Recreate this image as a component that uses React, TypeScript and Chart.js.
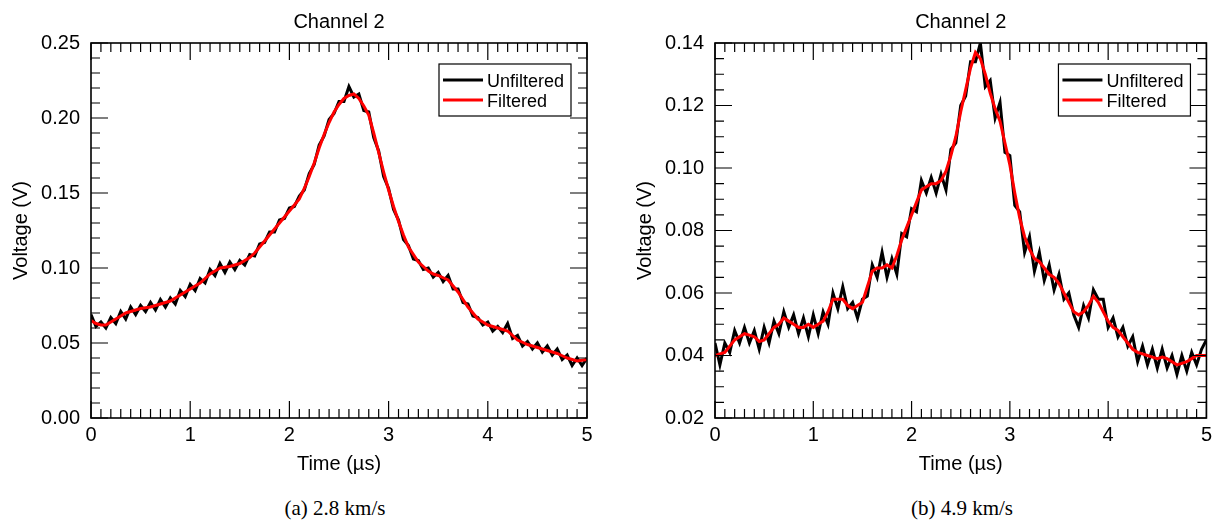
import React, { useEffect, useRef } from 'react';
import { Chart, registerables } from 'chart.js';

Chart.register(...registerables);

const timeUs = [
  0, 0.05, 0.1, 0.15, 0.2, 0.25, 0.3, 0.35, 0.4, 0.45,
  0.5, 0.55, 0.6, 0.65, 0.7, 0.75, 0.8, 0.85, 0.9, 0.95,
  1.0, 1.05, 1.1, 1.15, 1.2, 1.25, 1.3, 1.35, 1.4, 1.45,
  1.5, 1.55, 1.6, 1.65, 1.7, 1.75, 1.8, 1.85, 1.9, 1.95,
  2.0, 2.05, 2.1, 2.15, 2.2, 2.25, 2.3, 2.35, 2.4, 2.45,
  2.5, 2.55, 2.6, 2.65, 2.7, 2.75, 2.8, 2.85, 2.9, 2.95,
  3.0, 3.05, 3.1, 3.15, 3.2, 3.25, 3.3, 3.35, 3.4, 3.45,
  3.5, 3.55, 3.6, 3.65, 3.7, 3.75, 3.8, 3.85, 3.9, 3.95,
  4.0, 4.05, 4.1, 4.15, 4.2, 4.25, 4.3, 4.35, 4.4, 4.45,
  4.5, 4.55, 4.6, 4.65, 4.7, 4.75, 4.8, 4.85, 4.9, 4.95,
  5.0,
];

const unfilteredA = [
  0.069, 0.061, 0.064, 0.060, 0.067, 0.063, 0.071, 0.066, 0.074, 0.069,
  0.075, 0.071, 0.077, 0.072, 0.079, 0.074, 0.080, 0.076, 0.085, 0.081,
  0.089, 0.085, 0.093, 0.090, 0.099, 0.095, 0.103, 0.097, 0.104, 0.099,
  0.105, 0.102, 0.109, 0.108, 0.116, 0.117, 0.124, 0.124, 0.132, 0.133,
  0.140, 0.141, 0.148, 0.152, 0.163, 0.169, 0.182, 0.188, 0.199, 0.203,
  0.211, 0.211, 0.221, 0.214, 0.216, 0.205, 0.204, 0.187, 0.178, 0.161,
  0.153, 0.139, 0.132, 0.119, 0.115, 0.106, 0.105, 0.099, 0.100, 0.094,
  0.097, 0.091, 0.095, 0.086, 0.086, 0.077, 0.076, 0.068, 0.067, 0.062,
  0.064, 0.058, 0.061, 0.057, 0.063, 0.053, 0.055, 0.048, 0.051, 0.046,
  0.050, 0.044, 0.048, 0.042, 0.046, 0.039, 0.042, 0.035, 0.040, 0.035,
  0.040,
];

const filteredA = [
  0.065, 0.063, 0.062, 0.062, 0.064, 0.066, 0.068, 0.070, 0.071, 0.072,
  0.073, 0.0735, 0.074, 0.075, 0.076, 0.077, 0.078, 0.080, 0.082, 0.084,
  0.086, 0.088, 0.090, 0.093, 0.096, 0.098, 0.100, 0.1005, 0.101, 0.102,
  0.103, 0.105, 0.107, 0.110, 0.114, 0.118, 0.122, 0.126, 0.130, 0.134,
  0.138, 0.142, 0.146, 0.153, 0.161, 0.170, 0.180, 0.189, 0.197, 0.204,
  0.209, 0.213, 0.215, 0.216, 0.213, 0.208, 0.202, 0.190, 0.177, 0.164,
  0.152, 0.141, 0.131, 0.122, 0.114, 0.109, 0.104, 0.101, 0.098, 0.096,
  0.095, 0.0935, 0.092, 0.088, 0.084, 0.079, 0.074, 0.070, 0.066, 0.064,
  0.062, 0.061, 0.060, 0.059, 0.058, 0.055, 0.052, 0.0505, 0.049, 0.048,
  0.047, 0.046, 0.045, 0.044, 0.043, 0.0415, 0.040, 0.039, 0.038, 0.0385,
  0.039,
];

const unfilteredB = [
  0.044, 0.037, 0.044, 0.041, 0.048, 0.044, 0.049, 0.044, 0.048, 0.042,
  0.049, 0.044, 0.051, 0.047, 0.054, 0.049, 0.053, 0.047, 0.052, 0.046,
  0.053, 0.047, 0.054, 0.050, 0.060, 0.055, 0.062, 0.055, 0.057, 0.052,
  0.058, 0.059, 0.069, 0.065, 0.073, 0.065, 0.071, 0.066, 0.079, 0.078,
  0.087, 0.086, 0.096, 0.092, 0.097, 0.092, 0.098, 0.093, 0.106, 0.108,
  0.120, 0.123, 0.134, 0.134, 0.140, 0.126, 0.128, 0.116, 0.121, 0.105,
  0.104, 0.088, 0.086, 0.073, 0.078, 0.067, 0.073, 0.064, 0.069, 0.061,
  0.066, 0.058, 0.060, 0.053, 0.049, 0.056, 0.052, 0.061, 0.058, 0.058,
  0.049, 0.052, 0.046, 0.049, 0.043, 0.046, 0.038, 0.043, 0.037, 0.042,
  0.036, 0.042, 0.036, 0.040, 0.034, 0.040, 0.035, 0.041, 0.037, 0.042,
  0.045,
];

const filteredB = [
  0.040, 0.0405, 0.041, 0.043, 0.045, 0.046, 0.047, 0.0465, 0.046, 0.0445,
  0.045, 0.047, 0.049, 0.050, 0.052, 0.051, 0.050, 0.049, 0.049, 0.050,
  0.049, 0.050, 0.051, 0.054, 0.058, 0.058, 0.058, 0.056, 0.055, 0.056,
  0.057, 0.062, 0.067, 0.068, 0.068, 0.069, 0.068, 0.072, 0.077, 0.081,
  0.085, 0.089, 0.093, 0.094, 0.095, 0.095, 0.096, 0.099, 0.104, 0.110,
  0.118, 0.125, 0.132, 0.137, 0.135, 0.130, 0.124, 0.119, 0.115, 0.108,
  0.101, 0.092, 0.084, 0.078, 0.074, 0.071, 0.070, 0.068, 0.066, 0.065,
  0.063, 0.060, 0.057, 0.054, 0.053, 0.054, 0.056, 0.059, 0.057, 0.054,
  0.051, 0.049, 0.048, 0.046, 0.044, 0.042, 0.041, 0.0405, 0.040, 0.0395,
  0.039, 0.0395, 0.039, 0.038, 0.037, 0.0375, 0.038, 0.039, 0.040, 0.040,
  0.040,
];

const xTickLabels = ['0', '1', '2', '3', '4', '5'];
const yTickLabelsA = ['0.00', '0.05', '0.10', '0.15', '0.20', '0.25'];
const yTickLabelsB = ['0.02', '0.04', '0.06', '0.08', '0.10', '0.12', '0.14'];
const seriesNames = ['Unfiltered', 'Filtered'];
const chartTitle = 'Channel 2';
const xTitle = 'Time (\u00b5s)';
const yTitle = 'Voltage (V)';
const captions = ['(a) 2.8 km/s', '(b) 4.9 km/s'];

const SANS = '"Liberation Sans", Arial, Helvetica, sans-serif';

const decorPlugin = {
  id: 'decor',
  afterDatasetsDraw(chart: any, _args: any, opts: any) {
    const { ctx, chartArea: a, scales } = chart;
    const xs = scales.x;
    const ys = scales.y;
    ctx.save();
    ctx.strokeStyle = '#000';
    ctx.lineWidth = 1.2;
    ctx.beginPath();
    const nx = Math.round((xs.max - xs.min) / opts.xMinor);
    for (let i = 0; i <= nx; i++) {
      const p = xs.getPixelForValue(xs.min + i * opts.xMinor);
      const len = i % opts.xMajorEvery === 0 ? 17 : 9;
      ctx.moveTo(p, a.bottom);
      ctx.lineTo(p, a.bottom - len);
      ctx.moveTo(p, a.top);
      ctx.lineTo(p, a.top + len);
    }
    const ny = Math.round((ys.max - ys.min) / opts.yMinor);
    for (let i = 0; i <= ny; i++) {
      const p = ys.getPixelForValue(ys.min + i * opts.yMinor);
      const len = i % opts.yMajorEvery === 0 ? 17 : 9;
      ctx.moveTo(a.left, p);
      ctx.lineTo(a.left + len, p);
      ctx.moveTo(a.right, p);
      ctx.lineTo(a.right - len, p);
    }
    ctx.stroke();
    ctx.lineWidth = 1.6;
    ctx.strokeRect(a.left, a.top, a.right - a.left, a.bottom - a.top);

    // titles
    ctx.fillStyle = '#000';
    ctx.font = `20px ${SANS}`;
    ctx.textAlign = 'center';
    ctx.textBaseline = 'alphabetic';
    const cx = (a.left + a.right) / 2;
    ctx.fillText(opts.title, cx, 28);
    ctx.fillText(opts.xTitle, cx, 470);
    ctx.save();
    ctx.translate(a.left - 64, (a.top + a.bottom) / 2);
    ctx.rotate(-Math.PI / 2);
    ctx.fillText(opts.yTitle, 0, 0);
    ctx.restore();

    // legend
    const bw = 132;
    const bh = 52;
    const bx = a.right - 16 - bw;
    const by = a.top + 21;
    ctx.fillStyle = '#fff';
    ctx.fillRect(bx, by, bw, bh);
    ctx.lineWidth = 1.2;
    ctx.strokeStyle = '#000';
    ctx.strokeRect(bx, by, bw, bh);
    ctx.font = `18px ${SANS}`;
    ctx.textAlign = 'left';
    chart.data.datasets.forEach((ds: any, i: number) => {
      const ly = by + 16 + i * 20;
      ctx.strokeStyle = ds.borderColor;
      ctx.lineWidth = 3;
      ctx.beginPath();
      ctx.moveTo(bx + 4, ly);
      ctx.lineTo(bx + 44, ly);
      ctx.stroke();
      ctx.fillStyle = '#000';
      ctx.fillText(ds.label, bx + 48, ly + 7);
    });
    ctx.restore();
  },
};

type PanelProps = {
  unf: number[];
  filt: number[];
  yMin: number;
  yMax: number;
  yStep: number;
  yMinor: number;
  yMajorEvery: number;
  yLabels: string[];
  width: number;
  height: number;
  axisWidth: number;
  padRight: number;
};

function Panel(p: PanelProps) {
  const ref = useRef<HTMLCanvasElement | null>(null);
  useEffect(() => {
    if (!ref.current) return;
    const chart = new Chart(ref.current, {
      type: 'line',
      data: {
        datasets: [
          {
            label: seriesNames[0],
            data: timeUs.map((t, i) => ({ x: t, y: p.unf[i] })),
            borderColor: '#000000',
            borderWidth: 3,
            pointRadius: 0,
            tension: 0,
            order: 2,
          },
          {
            label: seriesNames[1],
            data: timeUs.map((t, i) => ({ x: t, y: p.filt[i] })),
            borderColor: '#ff0000',
            borderWidth: 3,
            pointRadius: 0,
            tension: 0,
            order: 1,
          },
        ],
      },
      plugins: [decorPlugin],
      options: {
        animation: false,
        responsive: false,
        maintainAspectRatio: false,
        layout: { padding: { left: 0, top: 43, right: p.padRight, bottom: 0 } },
        plugins: {
          legend: { display: false },
          tooltip: { enabled: false },
          title: { display: false },
          decor: {
            xMinor: 0.1,
            xMajorEvery: 10,
            yMinor: p.yMinor,
            yMajorEvery: p.yMajorEvery,
            title: chartTitle,
            xTitle: xTitle,
            yTitle: yTitle,
          },
        } as any,
        scales: {
          x: {
            type: 'linear',
            min: 0,
            max: 5,
            grid: { display: false, drawTicks: false },
            border: { display: false },
            ticks: {
              stepSize: 1,
              padding: 5,
              color: '#000',
              font: { family: SANS, size: 20 },
              maxRotation: 0,
              autoSkip: false,
              callback: (v: any, i: number) => xTickLabels[i] ?? String(v),
            },
            afterFit: (s: any) => {
              s.height = p.height - 418;
            },
          },
          y: {
            type: 'linear',
            min: p.yMin,
            max: p.yMax,
            grid: { display: false, drawTicks: false },
            border: { display: false },
            ticks: {
              stepSize: p.yStep,
              padding: 11,
              color: '#000',
              font: { family: SANS, size: 20 },
              autoSkip: false,
              callback: (v: any, i: number) => p.yLabels[i] ?? Number(v).toFixed(2),
            },
            afterFit: (s: any) => {
              s.width = p.axisWidth;
            },
          },
        },
      } as any,
    });
    return () => chart.destroy();
  }, []);
  return (
    <canvas
      ref={ref}
      width={p.width}
      height={p.height}
      style={{ display: 'block', width: p.width, height: p.height }}
    />
  );
}

export default function App() {
  const captionStyle: React.CSSProperties = {
    position: 'absolute',
    top: 495,
    width: 240,
    textAlign: 'center',
    fontFamily: '"Liberation Serif", "DejaVu Serif", serif',
    fontSize: 21,
    lineHeight: '26px',
    color: '#000',
  };
  return (
    <div style={{ position: 'absolute', left: 0, top: 0, width: 1217, height: 529, background: '#fff' }}>
      <div style={{ position: 'absolute', left: 0, top: 0 }}>
        <Panel
          unf={unfilteredA}
          filt={filteredA}
          yMin={0}
          yMax={0.25}
          yStep={0.05}
          yMinor={0.01}
          yMajorEvery={5}
          yLabels={yTickLabelsA}
          width={608}
          height={480}
          axisWidth={91}
          padRight={21}
        />
      </div>
      <div style={{ position: 'absolute', left: 608, top: 0 }}>
        <Panel
          unf={unfilteredB}
          filt={filteredB}
          yMin={0.02}
          yMax={0.14}
          yStep={0.02}
          yMinor={0.005}
          yMajorEvery={4}
          yLabels={yTickLabelsB}
          width={609}
          height={480}
          axisWidth={107}
          padRight={6}
        />
      </div>
      <div style={{ ...captionStyle, left: 335 - 120 }}>{captions[0]}</div>
      <div style={{ ...captionStyle, left: 962 - 120 }}>{captions[1]}</div>
    </div>
  );
}
